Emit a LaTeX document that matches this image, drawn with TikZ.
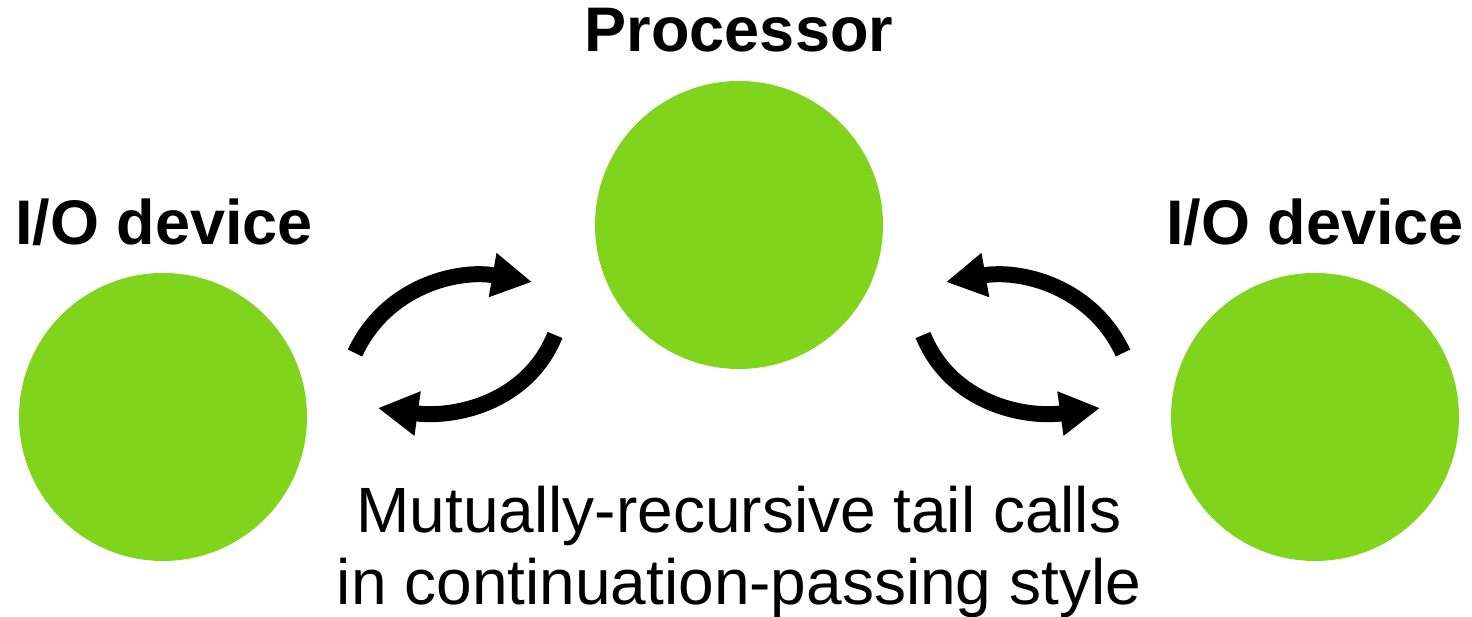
\documentclass[tikz,border=0pt]{standalone}
\usepackage{fontspec}
\setmainfont{Liberation Sans}
\usepackage{tikz}
\usetikzlibrary{arrows.meta}
\definecolor{devgreen}{RGB}{129,212,28}
\tikzset{
  dev/.style={circle, fill=devgreen, minimum size=288pt, inner sep=0pt},
  title/.style={anchor=base, font=\fontsize{63}{72}\selectfont\bfseries},
  callarrow/.style={line width=16pt, line cap=butt, -{Triangle[length=40pt,width=42pt]}}
}
\begin{document}
\begin{tikzpicture}[x=1pt,y=1pt]
            \useasboundingbox (0,0) rectangle (1472,617);
            \node[dev] (leftio) at (163,200) {};     %left device
            \node[dev] (proc) at (739,392) {};       %processor
            \node[dev] (rightio) at (1315,200) {};   %right device
            \node[title] (leftname) at (164,372) {I/O device};
            \node[title] (procname) at (739,565) {Processor};
            \node[title] (rightname) at (1315,372) {I/O device};
            \node[anchor=base, align=center, font=\fontsize{64}{72}\selectfont] (caption) at (739,12) {Mutually-recursive tail calls\\in continuation-passing style};
            % left pair
            \coordinate (la1) at (355,264);
            \coordinate (lb1) at (532,335);
            \coordinate (la2) at (555,282);
            \coordinate (lb2) at (378,209);
            % right pair
            \coordinate (ra1) at (1123,264);
            \coordinate (rb1) at (946,335);
            \coordinate (ra2) at (923,282);
            \coordinate (rb2) at (1100,209);
            \draw[callarrow] (la1) to[out=65,in=170] (lb1);
            \draw[callarrow] (la2) to[out=-112,in=-8] (lb2);
            \draw[callarrow] (ra1) to[out=115,in=10] (rb1);
            \draw[callarrow] (ra2) to[out=-68,in=188] (rb2);
            \end{tikzpicture}
\end{document}
